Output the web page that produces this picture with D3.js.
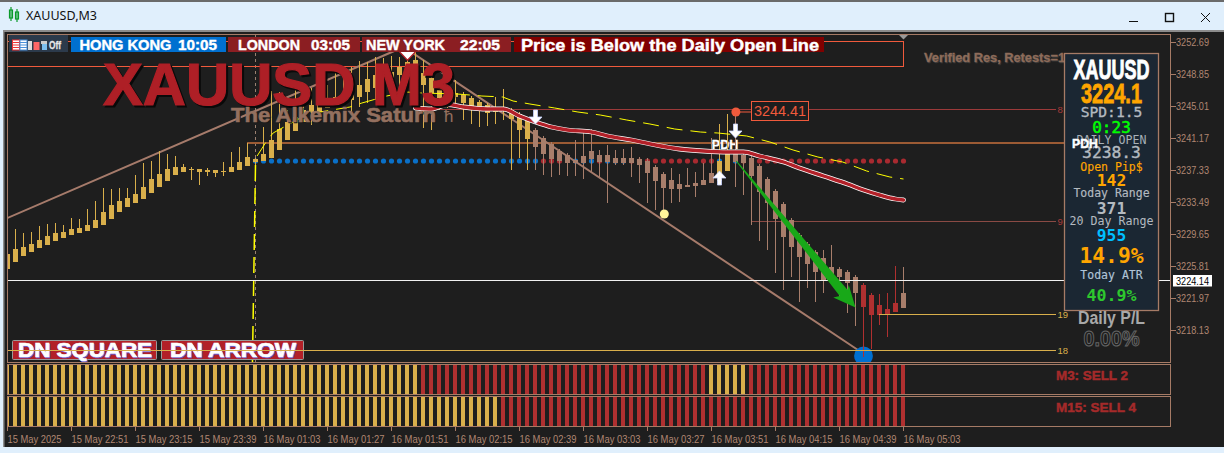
<!DOCTYPE html>
<html><head><meta charset="utf-8">
<style>html,body{margin:0;padding:0;background:#1e1e1e;overflow:hidden}svg{display:block}text{white-space:pre}</style>
<script src="https://cdn.jsdelivr.net/npm/d3@7/dist/d3.min.js"></script></head><body>
<script>
const priceTicks=[3252.69,3248.85,3245.01,3241.17,3237.33,3233.49,3229.65,3225.81,3221.97,3218.13];
const timeTicks=["15 May 2025","15 May 22:51","15 May 23:15","15 May 23:39","16 May 01:03","16 May 01:27","16 May 01:51","16 May 02:15","16 May 02:39","16 May 03:03","16 May 03:27","16 May 03:51","16 May 04:15","16 May 04:39","16 May 05:03"];
const highs=[3227.43,3230.31,3229.83,3229.95,3230.67,3230.91,3231.03,3230.79,3231.63,3231.51,
3232.71,3233.67,3235.23,3235.11,3235.23,3235.23,3236.79,3238.23,3238.47,3239.67,
3239.31,3239.07,3238.11,3237.75,3237.51,3237.63,3237.39,3238.35,3239.55,3240.15,
3240.63,3238.83,3242.55,3246.87,3246.75,3244.59,3246.99,3247.59,3247.23,3246.39,
3247.59,3249.39,3248.91,3249.75,3250.47,3250.35,3250.95,3250.83,3251.07,3250.95,
3251.79,3252.39,3250.59,3249.15,3248.19,3247.59,3248.19,3246.75,3246.27,3245.79,
3245.43,3246.15,3247.11,3244.83,3244.35,3243.51,3242.43,3241.47,3240.75,3239.91,
3239.43,3240.99,3242.19,3242.31,3239.79,3240.39,3239.79,3239.91,3240.15,3238.95,
3238.83,3237.99,3237.15,3237.63,3236.91,3237.63,3237.15,3238.23,3241.23,3242.91,
3244.11,3244.35,3239.79,3239.19,3238.11,3236.55,3235.11,3233.55,3231.63,3229.83,
3228.75,3227.79,3227.79,3228.39,3225.75,3225.39,3224.79,3223.83,3222.63,3222.51,
3222.63,3225.87,3225.75];
const bodyTops=[3227.31,3227.91,3228.15,3228.51,3228.99,3229.47,3229.83,3229.95,3230.31,3230.43,
3230.79,3231.39,3232.35,3233.19,3233.67,3234.03,3234.51,3235.35,3236.31,3236.91,
3237.51,3237.75,3237.75,3237.51,3237.51,3237.39,3237.39,3237.27,3237.75,3238.35,
3238.95,3238.71,3239.31,3240.99,3242.31,3243.15,3243.75,3244.59,3245.19,3245.55,
3245.91,3246.15,3246.27,3246.51,3247.59,3248.31,3248.79,3249.03,3249.15,3249.75,
3250.35,3250.59,3249.03,3248.43,3247.23,3246.99,3246.63,3246.39,3246.03,3245.55,
3245.19,3244.95,3244.95,3244.59,3244.11,3243.27,3242.19,3241.23,3240.51,3239.67,
3239.19,3238.59,3239.07,3239.67,3239.19,3239.19,3238.83,3238.83,3238.83,3238.71,
3238.47,3237.75,3236.91,3236.19,3235.71,3235.59,3235.83,3236.19,3237.03,3238.47,
3239.79,3239.79,3239.19,3238.83,3237.87,3236.31,3234.87,3233.31,3231.39,3229.59,
3228.51,3227.55,3226.83,3225.75,3225.51,3225.15,3224.55,3223.59,3222.39,3221.19,
3220.71,3221.43,3222.63];
const bodyBottoms=[3225.51,3226.35,3227.07,3227.55,3228.03,3228.39,3228.87,3229.23,3229.59,3229.83,
3230.07,3230.43,3230.79,3231.51,3232.35,3232.95,3233.43,3233.91,3234.63,3235.35,
3236.07,3236.79,3237.15,3237.39,3237.15,3237.15,3237.03,3237.15,3237.15,3237.39,
3237.87,3238.35,3238.47,3238.83,3239.79,3240.99,3242.07,3243.15,3244.23,3244.35,
3244.83,3245.07,3245.31,3245.79,3246.15,3246.75,3247.23,3247.83,3247.95,3248.79,
3249.15,3248.79,3247.59,3246.63,3246.03,3246.15,3246.15,3245.43,3245.07,3244.59,
3244.23,3244.35,3244.47,3243.51,3242.19,3241.11,3240.15,3239.31,3238.71,3238.47,
3238.23,3238.23,3238.23,3238.71,3238.35,3238.35,3238.23,3238.23,3238.23,3237.99,
3237.03,3236.07,3235.23,3235.11,3235.11,3235.35,3235.47,3235.59,3235.83,3236.07,
3237.27,3238.35,3238.23,3236.67,3234.75,3233.43,3231.51,3229.35,3228.15,3226.95,
3226.11,3225.15,3224.19,3224.19,3224.55,3223.83,3222.63,3220.95,3219.99,3219.99,
3220.11,3220.35,3220.83];
const lows=[3225.51,3226.35,3227.07,3227.55,3228.03,3228.39,3228.87,3229.23,3229.59,3229.83,
3230.07,3230.43,3230.79,3231.51,3232.35,3232.95,3233.43,3233.91,3234.63,3235.35,
3236.07,3236.79,3237.15,3236.19,3235.59,3236.67,3236.55,3236.67,3237.15,3237.39,
3237.87,3237.39,3238.47,3238.83,3239.79,3240.99,3242.07,3243.15,3242.79,3244.35,
3244.83,3245.07,3245.31,3243.99,3244.95,3245.43,3245.79,3246.39,3246.75,3247.23,
3247.59,3246.99,3242.43,3242.19,3244.59,3244.83,3245.07,3243.39,3242.91,3242.55,
3242.67,3242.91,3243.39,3237.39,3238.83,3237.39,3237.39,3236.79,3236.55,3236.79,
3236.67,3236.67,3236.31,3237.15,3236.55,3233.43,3237.99,3237.99,3236.55,3235.83,
3233.43,3232.59,3232.23,3233.43,3233.55,3235.35,3234.15,3235.59,3235.83,3235.59,
3237.27,3235.35,3234.39,3230.79,3228.87,3227.79,3225.03,3222.99,3224.55,3221.55,
3223.23,3221.55,3222.63,3224.19,3222.03,3220.23,3218.67,3214.95,3215.91,3218.79,
3217.35,3220.35,3220.83];
// candle colour runs: [first bar, last bar, kind]
const candleRuns=[[0,65,"up"],[66,88,"down"],[89,90,"up"],[91,106,"down"],[107,111,"strong"],[112,112,"down"]];
const dotRuns=[[31,66,"b"],[67,69,"r"],[71,73,"b"],[74,74,"r"],[75,77,"b"],[78,88,"r"],[89,89,"b"],[90,90,"r"],[91,91,"b"],[92,112,"r"]];
const m3Runs=[[0,51,"up"],[52,87,"strong"],[88,92,"up"],[93,112,"strong"]];
const m15Runs=[[0,61,"up"],[62,112,"strong"]];
const maBars=[51,53,55,57,60,62,64,66,68,70,73,75,78,81,84,87,90,92,94,97,99,102,105,107,109,111,112];
const maPrices=[3244.83,3244.71,3245.25,3244.95,3244.71,3244.71,3243.87,3243.15,3242.55,3242.19,3241.95,3241.47,3240.99,3240.39,3239.91,3239.67,3239.55,3239.55,3239.07,3238.35,3237.63,3236.67,3235.71,3234.99,3234.39,3233.91,3233.79];
const upperBars=[31.2,32.4,33.2,36.6,39.1,42.8,44.3,47.4,49.9,51.8,56.2,59.3,61.9,63.2,65.3,68.4,71.3,74.1,77.4,80.3,83.4,86.6,88.8,92.4,95.3,98.2,101.3,104.4,107.4,110.3,112];
const upperPrices=[3239.07,3240.87,3241.83,3243.63,3244.35,3244.95,3245.43,3246.27,3246.75,3246.63,3246.51,3246.27,3246.15,3245.67,3245.31,3244.83,3244.35,3243.99,3243.39,3242.91,3242.31,3241.95,3241.83,3241.47,3240.75,3239.79,3238.95,3238.35,3237.27,3236.55,3236.31];
const trendBars=[0,49.5,106.5];
const trendPrices=[3231.63,3252.15,3215.67];
const levelPrices={l8:3244.71,l9:3231.21,l19:3220.05,l18:3215.73,pdh:3240.63,bid:3224.14,dots:3238.47,rectTop:3252.81,rectBottom:3249.81};
const arrowBars=[50,66,91,89];
const arrowPrices=[3251.9,3243.75,3242.07,3236.43];
const arrowDirs=["down","down","down","up"];

const W=1224,H=453,BG="#1e1e1e",GOLD="#d9af4b",BROWN="#a87e6b",RED="#b03030",FRAME="#a67b66";
const KIND={up:GOLD,down:BROWN,strong:RED};
const x=d3.scaleLinear().domain([0,112]).range([7.5,903.5]);
const y=d3.scaleLinear().domain([3218.13,3252.69]).range([330.5,42.5]);
const svg=d3.select("body").append("svg").attr("width",W).attr("height",H);
const kindOf=(runs,i,d)=>{for(const r of runs)if(i>=r[0]&&i<=r[1])return r[2];return d};
const bars=d3.range(highs.length);
const SANS="'Liberation Sans',Arial,sans-serif",MONO="'DejaVu Sans Mono',monospace";
function txt(g,s,px,py,o){o=o||{};const t=g.append("text").attr("x",px).attr("y",py).text(s)
 .attr("font-family",o.font||SANS).attr("font-size",o.size||10).attr("font-weight",o.weight||"normal")
 .attr("fill",o.fill||"#fff").attr("text-anchor",o.anchor||"start");
 if(o.len){t.attr("textLength",o.len).attr("lengthAdjust",o.adjust||"spacingAndGlyphs");}
 if(o.stroke)t.attr("stroke",o.strokeColor||o.fill||"#fff").attr("stroke-width",o.stroke);
 return t;}
function shadowTxt(g,s,px,py,o,sc,dx,dy){txt(g,s,px+(dx||1),py+(dy||1),Object.assign({},o,{fill:sc,strokeColor:sc}));return txt(g,s,px,py,o);}

// window chrome
svg.append("rect").attr("width",W).attr("height",H).attr("fill","#e0effc");
svg.append("rect").attr("width",W).attr("height",2).attr("fill","#6a6a6a");
svg.append("rect").attr("x",3).attr("y",30).attr("width",W-3).attr("height",417).attr("fill","#8c8c8c");
svg.append("rect").attr("x",4.5).attr("y",32).attr("width",W-4).attr("height",415).attr("fill",BG);
const icon=svg.append("g").attr("fill","none").attr("stroke","#0a9a2a").attr("stroke-width",1.2);
[[11,10,8],[17,12,7]].forEach(c=>{icon.append("rect").attr("x",c[0]-1.5).attr("y",c[1]).attr("width",3).attr("height",c[2]);
 icon.append("line").attr("x1",c[0]).attr("x2",c[0]).attr("y1",c[1]-3).attr("y2",c[1]+c[2]+3);});
txt(svg,"XAUUSD,M3",26,20,{font:"'Noto Sans',sans-serif",size:12.5,fill:"#111",len:71});
const wb=svg.append("g").attr("stroke","#111").attr("fill","none").attr("stroke-width",1);
wb.append("line").attr("x1",1129).attr("x2",1138).attr("y1",21.5).attr("y2",21.5);
wb.append("rect").attr("x",1165.5).attr("y",13.5).attr("width",8).attr("height",8).attr("stroke-width",1.4);
wb.append("path").attr("d","M1201 13L1210 22M1210 13L1201 22");

// frames
const frames=svg.append("g").attr("fill","none").attr("stroke",FRAME).attr("stroke-width",1).attr("shape-rendering","crispEdges");
[[34.5,328],[364.5,30],[396.5,30]].forEach(f=>frames.append("rect").attr("x",7.5).attr("y",f[0]).attr("width",1163).attr("height",f[1]));

svg.append("clipPath").attr("id","plot").append("rect").attr("x",8).attr("y",35).attr("width",1162).attr("height",327);
svg.append("clipPath").attr("id","strips").append("rect").attr("x",8).attr("y",360).attr("width",1162).attr("height",70);
const plot=svg.append("g").attr("clip-path","url(#plot)");

// session vertical
plot.append("line").attr("x1",x(31)).attr("x2",x(31)).attr("y1",35).attr("y2",362).attr("stroke","#9a8071").attr("stroke-dasharray","3,3").attr("shape-rendering","crispEdges");
// rectangle zone
plot.append("rect").attr("x",x(0)).attr("y",y(levelPrices.rectTop)).attr("width",x(112)-x(0)).attr("height",y(levelPrices.rectBottom)-y(levelPrices.rectTop))
 .attr("fill","none").attr("stroke","#f05a3c").attr("shape-rendering","crispEdges");
// level lines
const hl=(p,x1,x2,c,w)=>plot.append("line").attr("x1",x1).attr("x2",x2).attr("y1",y(p)).attr("y2",y(p)).attr("stroke",c).attr("stroke-width",w||1).attr("shape-rendering","crispEdges");
hl(levelPrices.l8,415,1056,"#9c3a3a");
hl(levelPrices.l9,752,1056,"#8a4a44");
hl(levelPrices.pdh,247,1066,"#9c5b34",2);
txt(plot,"PDH",725,149,{size:12.5,weight:"bold",anchor:"middle",fill:"#fff",stroke:.3});

// dots
plot.append("g").selectAll("circle").data(bars.filter(i=>kindOf(dotRuns,i,null))).join("circle")
 .attr("cx",i=>x(i)).attr("cy",y(levelPrices.dots)).attr("r",2.6)
 .attr("fill",i=>kindOf(dotRuns,i)==="b"?"#0a70c8":"#a82a30");

// trendline
plot.append("path").attr("fill","none").attr("stroke","#a67b6b").attr("stroke-width",2)
 .attr("d",d3.line().x(d=>x(d[0])).y(d=>y(d[1]))(d3.zip(trendBars,trendPrices)));

// blue circle
plot.append("circle").attr("cx",x(107)).attr("cy",y(3215.07)).attr("r",9.4).attr("fill","#0070d0");

// candles
const c=plot.append("g");
c.selectAll("line").data(bars).join("line").attr("x1",i=>x(i)).attr("x2",i=>x(i)).attr("y1",i=>y(highs[i])).attr("y2",i=>y(lows[i]))
 .attr("stroke",i=>KIND[kindOf(candleRuns,i)]).attr("shape-rendering","crispEdges");
c.selectAll("rect").data(bars).join("rect").attr("x",i=>x(i)-2.5).attr("width",5).attr("y",i=>y(bodyTops[i]))
 .attr("height",i=>Math.max(1,y(bodyBottoms[i])-y(bodyTops[i]))).attr("fill",i=>KIND[kindOf(candleRuns,i)]).attr("shape-rendering","crispEdges");

// yellow dashed vertical
plot.append("line").attr("x1",x(31)).attr("y1",y(3237.99)).attr("x2",x(30.62)).attr("y2",y(3214.35))
 .attr("stroke","#ffff00").attr("stroke-width",1.5).attr("stroke-dasharray","16,7");
// upper yellow
plot.append("path").attr("fill","none").attr("stroke","#ffff00").attr("stroke-width",1).attr("stroke-dasharray","16,8")
 .attr("d",d3.line().x(d=>x(d[0])).y(d=>y(d[1]))(d3.zip(upperBars,upperPrices)));
// MA
const maPath=d3.line().x(d=>x(d[0])).y(d=>y(d[1])).curve(d3.curveMonotoneX)(d3.zip(maBars,maPrices));
plot.append("path").attr("d",maPath).attr("fill","none").attr("stroke","#fff").attr("stroke-width",4.8).attr("stroke-linecap","round");
plot.append("path").attr("d",maPath).attr("fill","none").attr("stroke","#b22028").attr("stroke-width",3.4).attr("stroke-linecap","round");

// lower level lines, white price line
hl(levelPrices.bid,8,1170,"#f2f2f2");
hl(levelPrices.l19,879,1056,GOLD);

// green arrow
(function(){const tx=x(91.1),ty=y(3238.47),hx=x(106),hy=y(3220.95)+0.5;
 const dx=hx-tx,dy=hy-ty,L=Math.hypot(dx,dy),ux=dx/L,uy=dy/L,nx=-uy,ny=ux;
 const at=(t,s)=>[tx+dx*t+nx*s,ty+dy*t+ny*s];
 const pts=[at(0,.5),at(.9,5),at(.885,11),[hx,hy],at(.885,-9),at(.9,-5),at(0,-.5)];
 plot.append("polygon").attr("points",pts.map(p=>p.join(",")).join(" ")).attr("fill","#18a818");})();

// arrows
const arrowD=(d)=>d==="down"?"M-2,-7H2V0H6.5L0,7L-6.5,0H-2Z":"M-2,7H2V0H6.5L0,-7L-6.5,0H-2Z";
plot.append("g").selectAll("path").data(arrowBars).join("path")
 .attr("transform",(b,i)=>`translate(${x(b)},${y(arrowPrices[i])})${i===0?" scale(1.6)":""}`).attr("d",(b,i)=>arrowD(arrowDirs[i]))
 .attr("fill","#fff").attr("stroke",(b,i)=>i==0?"#b22028":"#c9d4ff").attr("stroke-width",.8);

// high marker
const hmX=x(91.05),hmY=y(3244.41)+0.5;
plot.append("line").attr("x1",hmX).attr("x2",751).attr("y1",hmY).attr("y2",hmY).attr("stroke","#f05a3c");
plot.append("circle").attr("cx",hmX).attr("cy",hmY).attr("r",4.5).attr("fill","#f05a3c");
plot.append("rect").attr("x",751.5).attr("y",101.5).attr("width",57).attr("height",19).attr("fill",BG).attr("stroke","#f05a3c").attr("shape-rendering","crispEdges");
txt(plot,"3244.41",780,116,{size:15,anchor:"middle",fill:"#f05a3c",len:52});
// yellow circle
plot.append("circle").attr("cx",x(82.1)).attr("cy",y(3232.11)).attr("r",4.5).attr("fill","#fff59a");

// big texts
shadowTxt(plot,"XAUUSD M3",103,105,{size:60,weight:"bold",fill:"#ae1f26",len:352,stroke:1.2},"#0a0a0a",2,2);
shadowTxt(plot,"The Alkemix Saturn",231,122,{size:20.5,weight:"bold",fill:"#94705f",len:205,stroke:.6},"#1a1a1a",1,1);
txt(plot,"\u0127",444,122,{size:17,fill:"#94705f"});
shadowTxt(plot,"Verified Res, Retests=1",924,61.5,{size:12,weight:"bold",fill:"#8e6c5a",len:141,stroke:.3},"#3a3a3a",1,1);
plot.append("polygon").attr("points",`899,35 908,35 903.5,39.5`).attr("fill","#999");

// buttons
[["DN SQUARE",12,144,18,134],["DN ARROW",161,142,170,126]].forEach(b=>{
 plot.append("rect").attr("x",b[1]+.5).attr("y",340.5).attr("width",b[2]).attr("height",19).attr("rx",1).attr("fill","#b22028").attr("stroke","#999");
 shadowTxt(plot,b[0],b[3],357,{size:20,weight:"bold",fill:"#fff",len:b[4],stroke:.7},"#6a5acd",1,0);});
hl(levelPrices.l18,8,1056,GOLD);

// level numbers
[[levelPrices.l8,"8","#a83a3a"],[levelPrices.l9,"9","#a83a3a"],[levelPrices.l19,"19",GOLD],[levelPrices.l18,"18",GOLD]].forEach(l=>
 txt(plot,l[1],1057.5,y(l[0])+3.5,{size:9.5,fill:l[2]}));

// header
const hdr=svg.append("g");
hdr.append("rect").attr("x",9).attr("y",35).attr("width",59).attr("height",17).attr("fill","#2c3a4b");
[[12.5,"#e33"],[20,"#4a90d9"]].forEach(a=>{hdr.append("rect").attr("x",a[0]).attr("y",40).attr("width",7).attr("height",10).attr("fill","#fff").attr("stroke",a[1]);
 [42.5,45,47.5].forEach(v=>hdr.append("line").attr("x1",a[0]).attr("x2",a[0]+7).attr("y1",v).attr("y2",v).attr("stroke",a[1]));});
hdr.append("rect").attr("x",28).attr("y",41).attr("width",4).attr("height",9).attr("fill","#ddd");
hdr.append("rect").attr("x",33.5).attr("y",42).attr("width",6).attr("height",8).attr("fill","#f66");
hdr.append("rect").attr("x",41).attr("y",41).attr("width",6).attr("height",3).attr("fill","#ccc");
hdr.append("rect").attr("x",42).attr("y",44).attr("width",5).attr("height",6).attr("fill","#7cc0f0");
txt(hdr,"Off",49,49,{size:11.5,weight:"bold",fill:"#e8e8e8",len:12,stroke:.3});
[[71,155,"#0070d0"],[228,132,"#8b1e22"],[362,149,"#8b1e22"],[514,310,"#800000"]].forEach(b=>
 hdr.append("rect").attr("x",b[0]).attr("y",37).attr("width",b[1]).attr("height",15).attr("fill",b[2]));
const hs={size:14.5,weight:"bold",fill:"#fff",stroke:.4};
txt(hdr,"HONG KONG",79.5,50,Object.assign({len:92},hs));
txt(hdr,"10:05",178,50,Object.assign({len:39},hs));
txt(hdr,"LONDON",238,50,Object.assign({len:62},hs));
txt(hdr,"03:05",311,50,Object.assign({len:39},hs));
txt(hdr,"NEW YORK",366,50,Object.assign({len:79},hs));
txt(hdr,"22:05",460,50,Object.assign({len:40},hs));
txt(hdr,"Price is Below the Daily Open Line",521,51,{size:16.5,weight:"bold",fill:"#fff",len:298,stroke:.4});

// signal strips
const stripG=svg.append("g").attr("clip-path","url(#strips)");
[[m3Runs,365,29],[m15Runs,397,29]].forEach(s=>{
 stripG.append("g").selectAll("rect").data(bars).join("rect").attr("x",i=>x(i)-2.5).attr("width",4).attr("y",s[1]).attr("height",s[2])
  .attr("fill",i=>KIND[kindOf(s[0],i)]);});
txt(svg,"M3: SELL 2",1056,380,{size:13.5,weight:"bold",fill:"#a52a2a",len:72,stroke:.5});
txt(svg,"M15: SELL 4",1056,412,{size:13.5,weight:"bold",fill:"#a52a2a",len:80,stroke:.5});

// axes
const ax=svg.append("g").attr("transform","translate(1170.5,0)")
 .call(d3.axisRight(y).tickValues(priceTicks).tickSize(5).tickSizeOuter(0).offset(0).tickFormat(d3.format(".2f")));
ax.select(".domain").remove();
ax.selectAll("line").attr("stroke",FRAME).attr("shape-rendering","crispEdges");
ax.selectAll("text").attr("fill","#b08672").attr("font-family",SANS).attr("font-size",10.5).attr("x",5.5).attr("textLength",33).attr("lengthAdjust","spacingAndGlyphs");
const tx=d3.scaleLinear().domain([0,14]).range([7.5,903.5]);
const bx=svg.append("g").attr("transform","translate(0,426.5)")
 .call(d3.axisBottom(tx).tickValues(d3.range(15)).tickSize(4).tickSizeOuter(0).offset(0).tickFormat(i=>timeTicks[i]));
bx.select(".domain").remove();
bx.selectAll("line").attr("stroke",FRAME).attr("shape-rendering","crispEdges");
bx.selectAll("text").attr("fill","#b08672").attr("font-family",SANS).attr("font-size",10.5).attr("text-anchor","start").attr("x",0).attr("y",8).attr("dy","0.8em")
 .attr("textLength",(i)=>i===0?54:57).attr("lengthAdjust","spacingAndGlyphs");

// bid tag
svg.append("rect").attr("x",1173).attr("y",275).attr("width",39).attr("height",11.5).attr("fill","#fff");
txt(svg,"3224.14",1192.5,284.5,{size:10.5,anchor:"middle",fill:"#000",len:33});

// info panel
const P=svg.append("g"),cx=1111.5;
P.append("rect").attr("x",1064.5).attr("y",53.5).attr("width",94).attr("height",257).attr("fill","#1b2733").attr("stroke",FRAME).attr("stroke-width",1.3);
const pT=(s,by,o)=>txt(P,s,cx,by,Object.assign({anchor:"middle"},o));
const NARROW="'Liberation Sans Narrow','Liberation Sans',sans-serif";
pT("XAUUSD",79,{size:27,weight:"bold",fill:"#fff",len:76,font:NARROW,stroke:.9});
pT("3224.1",103,{size:28,weight:"bold",fill:"#ffa500",len:61,font:NARROW,stroke:.8});
pT("SPD:1.5",117,{size:14.6,font:MONO,fill:"#b4bac0",stroke:.35});
pT("0:23",132.7,{size:16,font:MONO,fill:"#00ff00",stroke:.5});
pT("DAILY OPEN",144,{size:11.6,font:MONO,fill:"#a8b0b8"});
pT("3238.3",158,{size:16.3,font:MONO,fill:"#b4bac0",stroke:.4});
pT("Open Pip$",170.7,{size:11.5,font:MONO,fill:"#ffa500",stroke:.15});
pT("142",185.7,{size:16.3,font:MONO,weight:"bold",fill:"#ffa500"});
pT("Today Range",197,{size:11.5,font:MONO,fill:"#b4bac0",stroke:.15});
pT("371",214,{size:16.3,font:MONO,weight:"bold",fill:"#b4bac0"});
pT("20 Day Range",224.7,{size:12.6,font:MONO,fill:"#b4bac0",len:84});
pT("955",241,{size:16.3,font:MONO,weight:"bold",fill:"#00bfff"});
pT("14.9%",262.7,{size:21.3,font:MONO,weight:"bold",fill:"#ffa500"});
pT("Today ATR",279,{size:11.5,font:MONO,fill:"#b0c4d8",stroke:.15});
pT("40.9%",301,{size:16.6,font:MONO,weight:"bold",fill:"#2ec82e"});
txt(svg,"PDH",1072,148,{size:12.5,weight:"bold",fill:"#fff",len:26,stroke:.4});
pT("Daily P/L",324,{size:18,weight:"bold",fill:"#a8a8a8",len:67});
pT("0.00%",346,{size:22.5,weight:"bold",fill:"#1e1e1e",stroke:1,strokeColor:"#666",len:56});
</script></body></html>
